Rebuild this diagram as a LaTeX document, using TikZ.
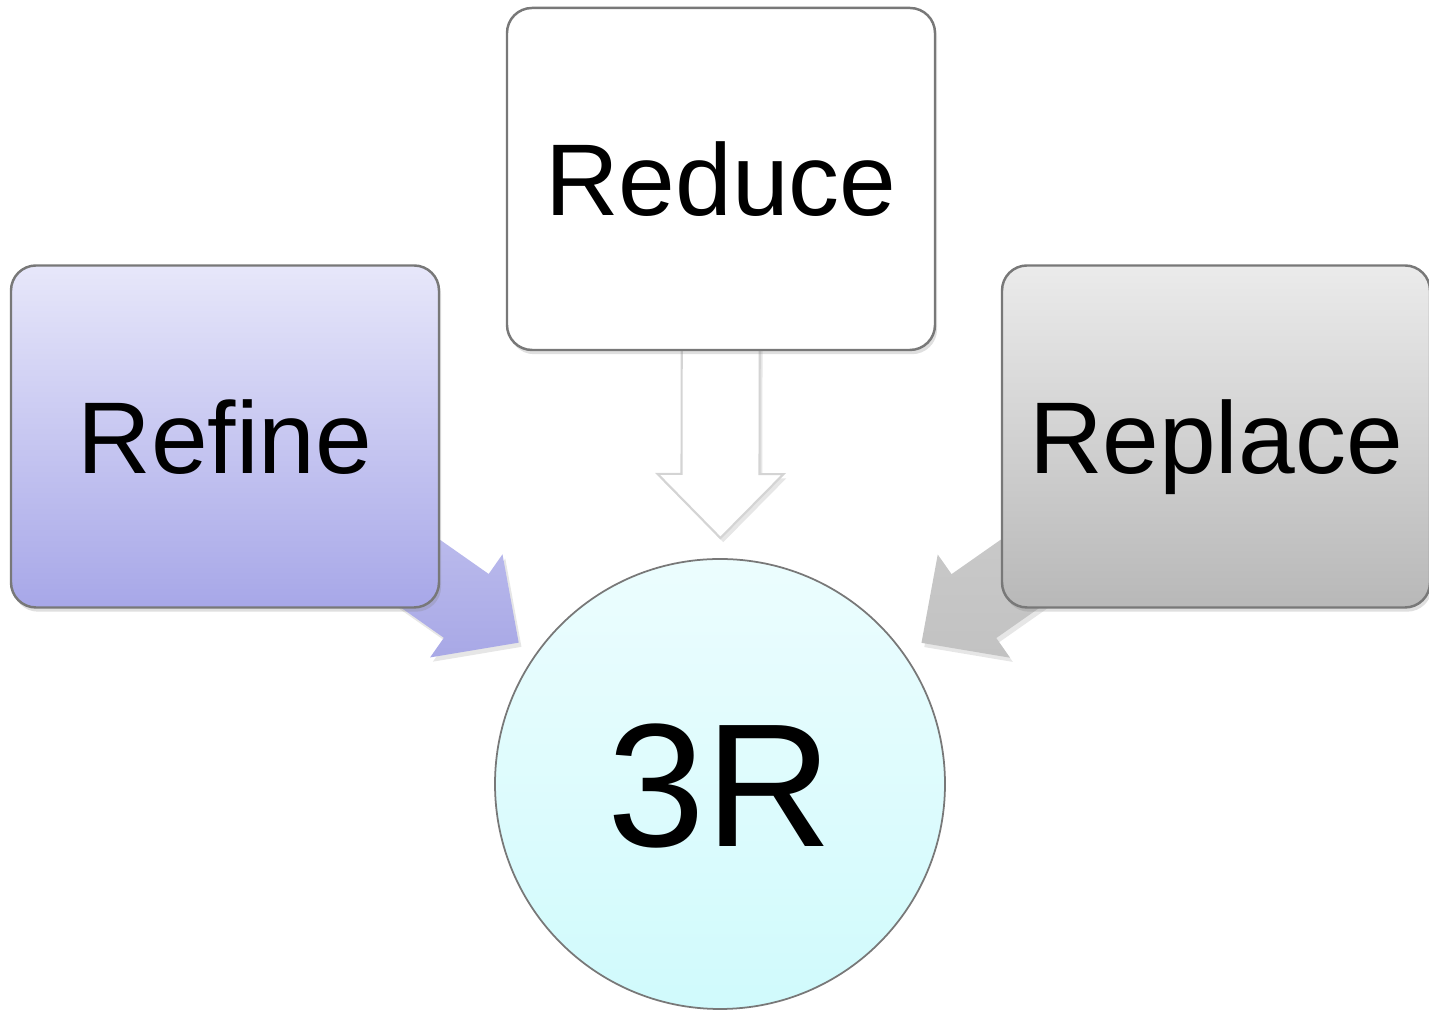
\documentclass[tikz,border=0pt]{standalone}
\usepackage{fontspec}
\setmainfont{Liberation Sans}
\usetikzlibrary{calc, shadows, backgrounds}

\definecolor{edgegray}{RGB}{120,120,120}
\definecolor{lavtop}{RGB}{231,231,250}
\definecolor{lavbot}{RGB}{167,167,232}
\definecolor{greytop}{RGB}{235,235,235}
\definecolor{greybot}{RGB}{184,184,184}
\definecolor{cyantop}{RGB}{236,253,254}
\definecolor{cyanbot}{RGB}{208,250,252}

\tikzset{
    rbox/.style={draw=edgegray, line width=0.7pt, rounded corners=0.25cm,
        minimum width=4.28cm, minimum height=3.42cm, inner sep=0pt,
        font=\fontsize{29}{35}\selectfont, text height=20.8pt, text depth=0pt,
        drop shadow={shadow xshift=0.6pt, shadow yshift=-1.2pt, opacity=0.25}},
    hub/.style={circle, draw=edgegray, line width=0.5pt, minimum size=4.5cm,
        inner sep=0pt, top color=cyantop, bottom color=cyanbot,
        font=\fontsize{50}{60}\selectfont, text height=35.8pt, text depth=0pt},
    flow/.style={drop shadow={shadow xshift=0.8pt, shadow yshift=-1.2pt, opacity=0.2}}
}

% block arrow from #1 to the tip #2, style #3
\newcommand{\blockarrow}[3]{%
    \coordinate (ba-base) at ($(#2)!0.64cm!(#1)$);
    \path[#3] ($(#1)!0.39cm!90:(#2)$) -- ($(ba-base)!0.39cm!90:(#2)$)
        -- ($(ba-base)!0.63cm!90:(#2)$) -- (#2)
        -- ($(ba-base)!0.63cm!-90:(#2)$) -- ($(ba-base)!0.39cm!-90:(#2)$)
        -- ($(#1)!0.39cm!-90:(#2)$) -- cycle;
}

\begin{document}
\begin{tikzpicture}
    \useasboundingbox (0,0) rectangle (14.29,10.11);

    % the three boxes and the hub
    \node[rbox, top color=lavtop, bottom color=lavbot] (refine) at (2.25,5.745) {Refine};
    \node[rbox, fill=white] (reduce) at (7.21,8.32) {Reduce};
    \node[rbox, top color=greytop, bottom color=greybot] (replace) at (12.16,5.745) {Replace};
    \node[hub] (hub) at (7.20,2.27) {3R};

    % arrow tips just off the circle
    \coordinate (tip-refine) at ($(hub.center)!2.46cm!(refine.center)$);
    \coordinate (tip-reduce) at ($(hub.center)!2.46cm!(reduce.center)$);
    \coordinate (tip-replace) at ($(hub.center)!2.46cm!(replace.center)$);

    \begin{scope}[on background layer]
        \blockarrow{refine.center}{tip-refine}{flow, top color={rgb,255:red,206;green,206;blue,243}, bottom color={rgb,255:red,168;green,168;blue,230}}
        \blockarrow{reduce.center}{tip-reduce}{flow, fill=white, draw={rgb,255:red,212;green,212;blue,212}, line width=0.6pt}
        \blockarrow{replace.center}{tip-replace}{flow, top color={rgb,255:red,208;green,208;blue,208}, bottom color={rgb,255:red,194;green,194;blue,194}}
    \end{scope}
\end{tikzpicture}
\end{document}
